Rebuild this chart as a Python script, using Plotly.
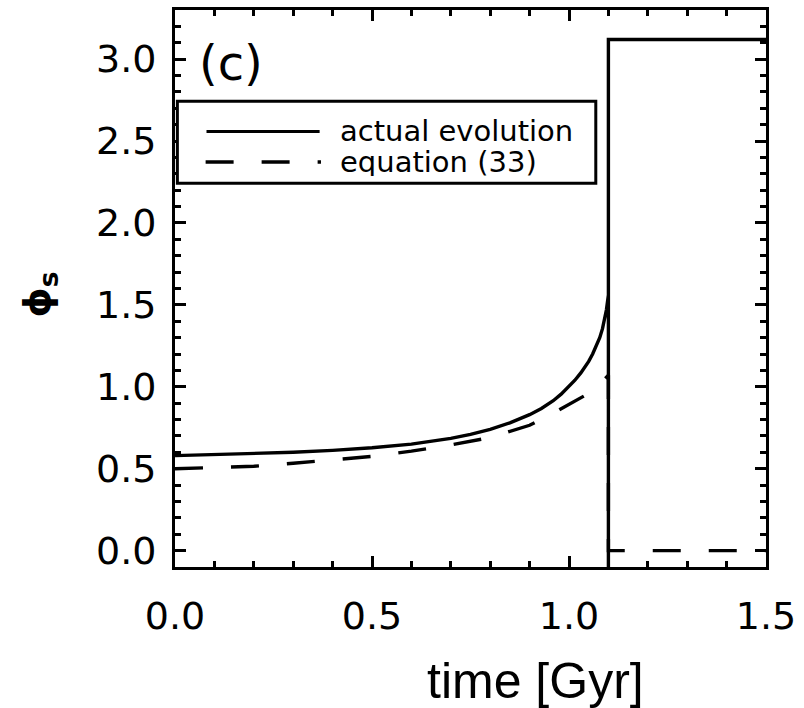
import plotly.graph_objects as go

# ---- data ----
t_actual = [0.0, 0.1, 0.2, 0.3, 0.4, 0.5, 0.6, 0.7, 0.75, 0.8, 0.85, 0.9, 0.93, 0.96, 0.98, 1.0,
            1.015, 1.03, 1.04, 1.05, 1.06, 1.07, 1.078, 1.085, 1.09, 1.095, 1.1, 1.1, 1.1, 1.5]
phi_actual = [0.58, 0.585, 0.592, 0.60, 0.612, 0.628, 0.65, 0.685, 0.71, 0.74, 0.78, 0.83, 0.868,
              0.915, 0.955, 1.0, 1.04, 1.085, 1.12, 1.155, 1.20, 1.25, 1.30, 1.355, 1.41,
              1.47, 1.56, -0.2, 3.12, 3.12]

t_eq = [0.0, 0.1, 0.2, 0.3, 0.4, 0.5, 0.6, 0.7, 0.8, 0.85, 0.9, 0.95, 1.0, 1.03, 1.05, 1.07,
        1.085, 1.1, 1.1, 1.5]
phi_eq = [0.50, 0.505, 0.515, 0.533, 0.553, 0.575, 0.607, 0.645, 0.69, 0.725, 0.765, 0.825,
          0.89, 0.93, 0.96, 1.0, 1.035, 1.07, 0.0, 0.0]

x_ticks = [0.0, 0.5, 1.0, 1.5]
x_ticklabels = ["0.0", "0.5", "1.0", "1.5"]
y_ticks = [0.0, 0.5, 1.0, 1.5, 2.0, 2.5, 3.0]
y_ticklabels = ["0.0", "0.5", "1.0", "1.5", "2.0", "2.5", "3.0"]

legend_labels = ["actual evolution", "equation (33)"]
panel_label = "(c)"
x_title = "time [Gyr]"
y_title = "ϕ<sub>s</sub>"

DASH = "28px,28px"

fig = go.Figure()
fig.add_trace(go.Scatter(x=t_actual, y=phi_actual, mode="lines",
                         line=dict(color="black", width=3.4),
                         name=legend_labels[0], showlegend=False))
fig.add_trace(go.Scatter(x=t_eq, y=phi_eq, mode="lines",
                         line=dict(color="black", width=3.4, dash=DASH),
                         name=legend_labels[1], showlegend=False))

axis_common = dict(
    showgrid=False, zeroline=False,
    showline=True, linecolor="black", linewidth=3, mirror="allticks",
    ticks="inside", ticklen=11, tickwidth=2.5, tickcolor="black",
    tickfont=dict(family="DejaVu Sans", size=38, color="black"),
)

fig.update_xaxes(range=[0, 1.5], tickvals=x_ticks, ticktext=x_ticklabels,
                 minor=dict(dtick=0.1, ticks="inside", ticklen=6, tickwidth=2.5, tickcolor="black"),
                 ticklabelstandoff=13, **axis_common)
fig.update_yaxes(range=[-0.1, 3.3], tickvals=y_ticks, ticktext=y_ticklabels,
                 minor=dict(dtick=0.1, tick0=0, ticks="inside", ticklen=6, tickwidth=2.5, tickcolor="black"),
                 ticklabelstandoff=8, **axis_common)

# legend box drawn manually (paper coordinates)
L, R = 0.004, 0.712
B, T = 0.689, 0.836
row1, row2 = 0.782, 0.727
fig.add_shape(type="rect", xref="paper", yref="paper", x0=L, x1=R, y0=B, y1=T,
              line=dict(color="black", width=3), fillcolor="white", layer="above")
fig.add_shape(type="line", xref="paper", yref="paper", x0=0.0533, x1=0.2447, y0=row1, y1=row1,
              line=dict(color="black", width=3))
fig.add_shape(type="line", xref="paper", yref="paper", x0=0.0518, x1=0.2470, y0=row2, y1=row2,
              line=dict(color="black", width=3.5, dash=DASH))
for lab, yy in zip(legend_labels, [row1, row2]):
    fig.add_annotation(xref="paper", yref="paper", x=0.277, y=yy, text=lab,
                       showarrow=False, xanchor="left", yanchor="middle",
                       height=28, borderpad=0,
                       font=dict(family="DejaVu Sans", size=29, color="black"))

fig.add_annotation(xref="paper", yref="paper", x=0.095, y=0.905, text=panel_label,
                   showarrow=False, xanchor="center", yanchor="middle",
                   font=dict(family="DejaVu Sans", size=48, color="black"))

fig.add_annotation(xref="paper", yref="paper", x=0.6105, y=-0.205, text=x_title,
                   showarrow=False, xanchor="center", yanchor="middle",
                   font=dict(family="Liberation Sans", size=50, color="black"))

fig.add_annotation(xref="paper", yref="paper", x=-0.2295, y=0.49, text="<b>" + y_title + "</b>",
                   showarrow=False, xanchor="center", yanchor="middle", textangle=-90,
                   font=dict(family="DejaVu Sans", size=38, color="black"))

fig.update_layout(
    width=804, height=708,
    margin=dict(l=175, r=38, t=7, b=141),
    paper_bgcolor="white", plot_bgcolor="white",
    showlegend=False,
)

fig.write_html("out.html", config={"displayModeBar": False},
               post_script="document.body.style.margin='0';document.body.style.padding='0';")
